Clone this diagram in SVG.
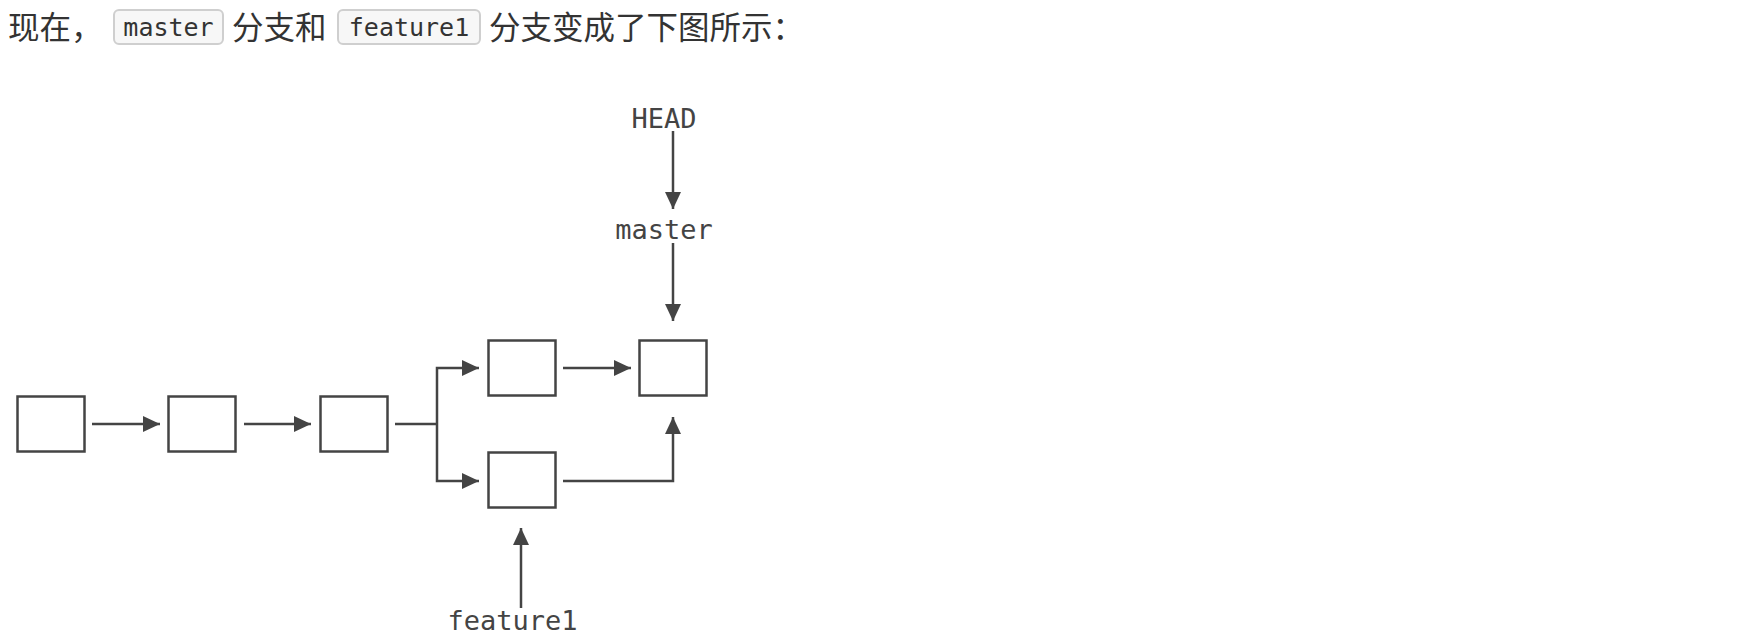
<svg xmlns="http://www.w3.org/2000/svg" width="1738" height="637" viewBox="0 0 1738 637">
  <style>
    .body { font-family: "Noto Sans CJK SC", "Noto Sans", sans-serif; font-size: 31.5px; fill: #333333; }
    .code { font-family: "DejaVu Sans Mono", "Liberation Mono", monospace; font-size: 25px; fill: #333333; text-anchor: middle; }
    .codebox { fill: #f7f7f7; stroke: #cfcfcf; stroke-width: 2; }
    .commit { fill: #ffffff; stroke: #444444; stroke-width: 2.5; }
    .label { font-family: "DejaVu Sans Mono", "Liberation Mono", monospace; font-size: 27px; fill: #444444; text-anchor: middle; }
    .conn { fill: none; stroke: #444444; stroke-width: 2.5; marker-end: url(#arrow); }
    .line { fill: none; stroke: #444444; stroke-width: 2.5; }
  </style>
  <defs>
    <marker id="arrow" markerUnits="userSpaceOnUse" markerWidth="17" markerHeight="16" refX="17" refY="8" orient="auto">
      <path d="M0,0 L17,8 L0,16 Z" fill="#444444"/>
    </marker>
  </defs>
  <rect width="1738" height="637" fill="#ffffff"/>

  <g id="caption">
    <text class="body" x="8" y="38.5">现在，</text>
    <rect class="codebox" x="114" y="10" width="109" height="34" rx="5"/>
    <text class="code" x="168.5" y="36">master</text>
    <text class="body" x="232" y="38.5">分支和</text>
    <rect class="codebox" x="338" y="10" width="142" height="34" rx="5"/>
    <text class="code" x="409" y="36">feature1</text>
    <text class="body" x="489" y="38.5">分支变成了下图所示：</text>
  </g>

  <g id="connectors">
    <path class="conn" d="M92,424 L160,424"/>
    <path class="conn" d="M244,424 L311,424"/>
    <path class="line" d="M395,424 L437,424"/>
    <path class="conn" d="M437,424 L437,368 L479,368"/>
    <path class="conn" d="M437,424 L437,481 L479,481"/>
    <path class="conn" d="M563,368 L631,368"/>
    <path class="conn" d="M563,481 L673,481 L673,417"/>
    <path class="conn" d="M521,608 L521,528"/>
    <path class="conn" d="M673,131 L673,209"/>
    <path class="conn" d="M673,243 L673,321"/>
  </g>

  <g id="c1"><rect class="commit" x="17.5" y="396.5" width="67" height="55"/></g>
  <g id="c2"><rect class="commit" x="168.5" y="396.5" width="67" height="55"/></g>
  <g id="c3"><rect class="commit" x="320.5" y="396.5" width="67" height="55"/></g>
  <g id="c4"><rect class="commit" x="488.5" y="340.5" width="67" height="55"/></g>
  <g id="c5"><rect class="commit" x="488.5" y="452.5" width="67" height="55"/></g>
  <g id="c6"><rect class="commit" x="639.5" y="340.5" width="67" height="55"/></g>

  <g id="head"><text class="label" x="664" y="128">HEAD</text></g>
  <g id="master"><text class="label" x="664" y="239">master</text></g>
  <g id="feature1"><text class="label" x="512.5" y="630">feature1</text></g>
</svg>
